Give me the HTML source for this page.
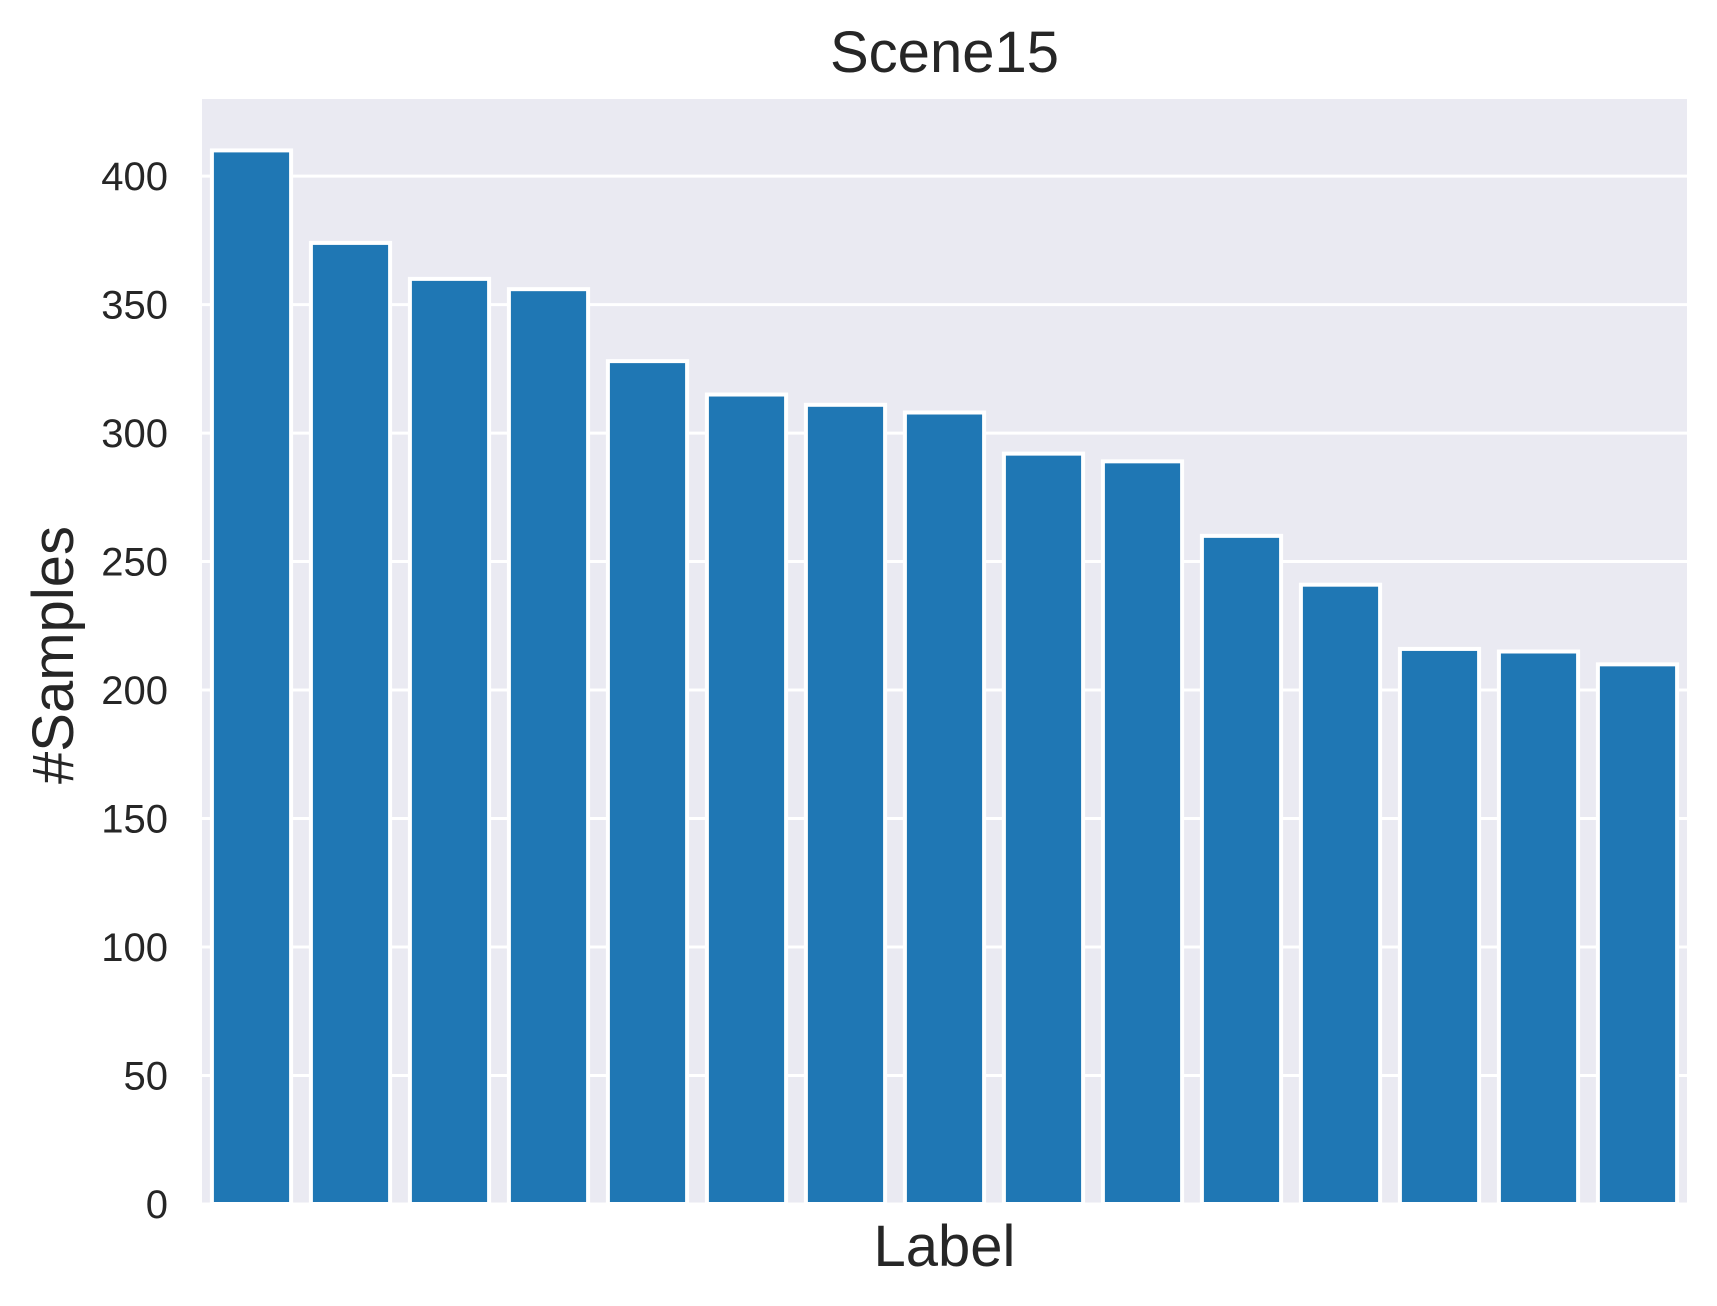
<!DOCTYPE html>
<html><head><meta charset="utf-8"><style>html,body{margin:0;padding:0;background:#fff}svg{display:block}</style></head>
<body>
<svg id="chart" width="1717" height="1306" xmlns="http://www.w3.org/2000/svg" font-family="Liberation Sans, Arial, sans-serif">
<rect x="202" y="99" width="1485" height="1105" fill="#eaeaf2"/>
<g id="grid"></g>
<g id="bars"></g>
<g id="yticks"></g>
<text x="944.5" y="72" font-size="58" text-anchor="middle" fill="#262626">Scene15</text>
<text x="944.5" y="1266" font-size="58" text-anchor="middle" fill="#262626">Label</text>
<text transform="translate(73,655) rotate(-90)" font-size="58" text-anchor="middle" fill="#262626">#Samples</text>
</svg>
<script>
const categories = ["c1","c2","c3","c4","c5","c6","c7","c8","c9","c10","c11","c12","c13","c14","c15"];
const values = [410,374,360,356,328,315,311,308,292,289,260,241,216,215,210];
const tickValues = [0,50,100,150,200,250,300,350,400];
const tickLabels = ["0","50","100","150","200","250","300","350","400"];

const NS = "http://www.w3.org/2000/svg";
const L = 202, R = 1687, T = 99, B = 1204, YMAX = 430;
const slot = (R - L) / categories.length;
function xScale(i) { return L + slot * (i + 0.5); }
function yScale(v) { return B - (v / YMAX) * (B - T); }

const grid = document.getElementById('grid');
const yt = document.getElementById('yticks');
tickValues.forEach((v, i) => {
  const y = yScale(v);
  const ln = document.createElementNS(NS, 'line');
  ln.setAttribute('x1', L); ln.setAttribute('x2', R);
  ln.setAttribute('y1', y); ln.setAttribute('y2', y);
  ln.setAttribute('stroke', '#fff'); ln.setAttribute('stroke-width', '3');
  
  
  grid.appendChild(ln);
  const t = document.createElementNS(NS, 'text');
  t.setAttribute('x', 168); t.setAttribute('y', y + 14);
  t.setAttribute('font-size', '40'); t.setAttribute('text-anchor', 'end');
  t.setAttribute('fill', '#262626');
  t.textContent = tickLabels[i];
  
  
  yt.appendChild(t);
});

const bars = document.getElementById('bars');
const bw = slot * 0.8;
values.forEach((v, i) => {
  const r = document.createElementNS(NS, 'rect');
  r.setAttribute('x', xScale(i) - bw / 2);
  r.setAttribute('y', yScale(v));
  r.setAttribute('width', bw);
  r.setAttribute('height', B - yScale(v));
  r.setAttribute('fill', '#1f77b4');
  r.setAttribute('stroke', '#fff'); r.setAttribute('stroke-width', '4');
  
  
  bars.appendChild(r);
});
</script>
</body></html>
